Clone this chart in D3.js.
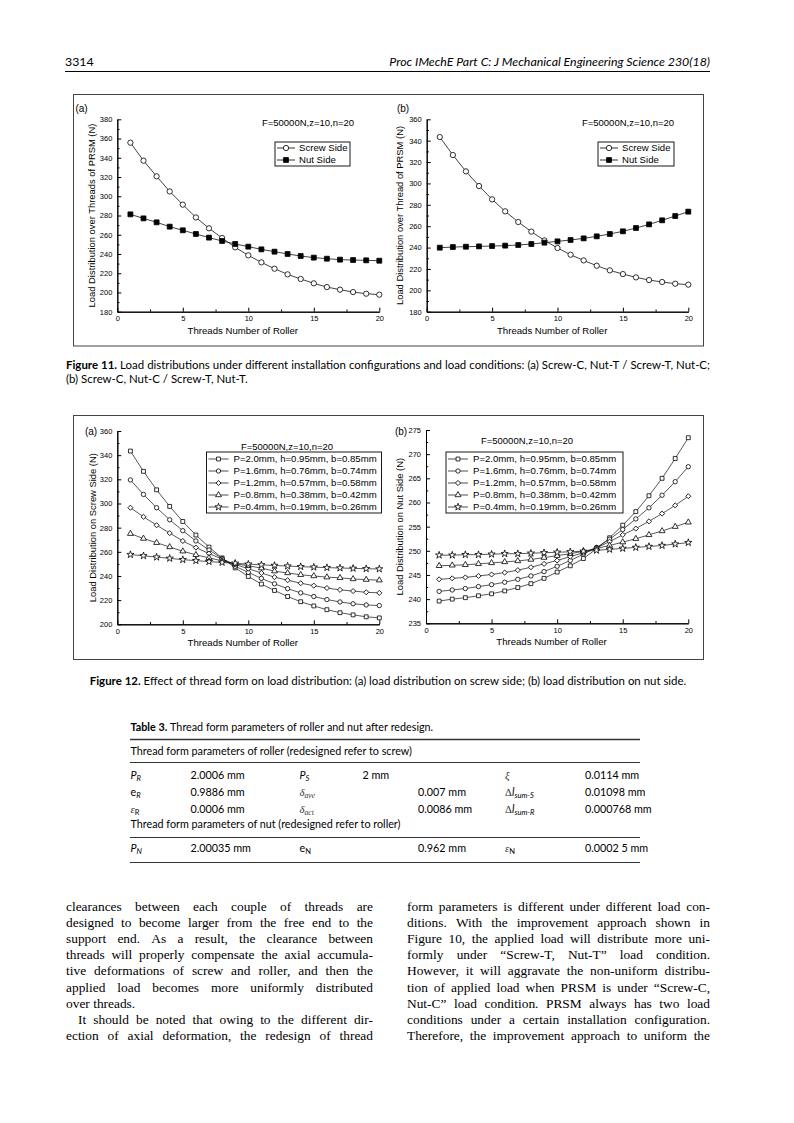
<!DOCTYPE html>
<html><head><meta charset="utf-8">
<script src="https://cdn.jsdelivr.net/npm/d3@7"></script>
<style>body{margin:0;background:#fff}svg{display:block}</style>
</head><body>
<svg id="page" width="794" height="1123"></svg>
<script>
// ---------------- DATA ----------------
const threadNo = [1,2,3,4,5,6,7,8,9,10,11,12,13,14,15,16,17,18,19,20];
const xTicks = [0,5,10,15,20];
const xMinor = [2.5,7.5,12.5,17.5];

// Figure 11(a)
const f11aScrew = [355.7,337.0,320.7,305.0,291.3,278.0,266.7,256.6,246.9,238.6,231.3,224.7,218.8,214.0,209.5,205.6,202.9,200.4,198.7,197.7];
const f11aNut   = [281.2,277.0,272.9,268.4,264.6,260.8,257.0,253.5,250.4,247.6,244.8,242.4,240.0,237.9,236.2,235.1,234.1,233.7,233.4,233.0];
const f11aYTicks = [180,200,220,240,260,280,300,320,340,360,380];
const f11aYMinor = [190,210,230,250,270,290,310,330,350,370];
// Figure 11(b)
const f11bScrew = [343.4,326.6,311.3,297.6,285.1,273.9,263.9,254.9,246.7,239.6,233.3,228.0,223.0,218.7,215.2,212.1,209.6,207.8,206.2,205.3];
const f11bNut   = [239.9,240.5,240.8,241.1,241.4,241.8,242.4,243.3,244.6,245.8,247.1,248.6,250.5,252.7,255.2,258.3,261.7,265.5,269.5,273.6];
const f11bYTicks = [180,200,220,240,260,280,300,320,340,360];
const f11bYMinor = [190,210,230,250,270,290,310,330,350];
const f11Legend = ["Screw Side","Nut Side"];
const f11Note = "F=50000N,z=10,n=20";

// Figure 12(a) load on screw side
const f12aP20 = [343.4,326.6,311.3,297.6,285.1,273.9,263.9,254.9,246.7,239.6,233.3,228.0,223.0,218.7,215.2,212.1,209.6,207.8,206.2,205.3];
const f12aP16 = [319.5,307.5,296.5,286.5,277.5,269.0,261.5,254.5,248.0,243.0,238.0,233.5,229.5,226.0,223.0,220.5,218.5,217.0,216.0,215.5];
const f12aP12 = [296.5,289.0,282.0,275.5,269.0,263.5,258.5,254.0,249.5,246.0,242.5,239.0,236.5,234.0,232.0,230.0,228.5,227.5,226.5,226.0];
const f12aP08 = [275.0,271.0,267.5,264.0,260.5,257.5,255.0,252.5,250.0,248.5,246.5,244.0,242.5,241.0,240.0,239.0,238.5,237.5,237.0,236.5];
const f12aP04 = [257.7,256.7,255.6,254.6,253.5,252.7,251.9,251.2,250.5,249.8,249.2,248.7,248.2,247.7,247.3,246.9,246.6,246.3,246.0,245.8];
const f12aYTicks = [200,220,240,260,280,300,320,340,360];
const f12aYMinor = [210,230,250,270,290,310,330,350];
// Figure 12(b) load on nut side
const f12bP20 = [239.6,240.0,240.3,240.7,241.1,241.7,242.4,243.2,244.3,245.6,246.9,248.4,250.4,252.7,255.3,258.1,261.4,265.0,269.1,273.4];
const f12bP16 = [241.6,241.9,242.2,242.6,243.0,243.5,244.1,244.8,245.7,246.8,248.0,249.3,250.7,252.4,254.4,256.6,258.9,261.5,264.3,267.4];
const f12bP12 = [244.1,244.3,244.5,244.8,245.1,245.5,246.0,246.6,247.3,248.0,248.8,249.6,250.6,251.9,253.3,254.6,256.1,257.7,259.4,261.3];
const f12bP08 = [246.9,247.0,247.1,247.3,247.5,247.7,247.9,248.2,248.6,249.0,249.4,249.9,250.5,251.1,251.8,252.5,253.3,254.1,255.0,255.9];
const f12bP04 = [249.1,249.1,249.2,249.2,249.3,249.4,249.4,249.5,249.6,249.7,249.8,249.9,250.1,250.3,250.5,250.7,250.9,251.1,251.4,251.7];
const f12bYTicks = [235,240,245,250,255,260,265,270,275];
const f12bYMinor = [237.5,242.5,247.5,252.5,257.5,262.5,267.5,272.5];
const f12Legend = ["P=2.0mm, h=0.95mm, b=0.85mm","P=1.6mm, h=0.76mm, b=0.74mm","P=1.2mm, h=0.57mm, b=0.58mm","P=0.8mm, h=0.38mm, b=0.42mm","P=0.4mm, h=0.19mm, b=0.26mm"];

// ---------------- SETUP ----------------
const svg = d3.select("#page");
const SANS = "'Liberation Sans', Arial, sans-serif";
const GILL = "Lato, 'Open Sans', sans-serif";
const SERIF = "'Liberation Serif', 'Times New Roman', serif";
const meas = svg.append("text").attr("x",-1000).attr("y",-1000);
function textW(str, fam, size, weight, style){
  meas.attr("font-family",fam).attr("font-size",size).attr("font-weight",weight||"normal").attr("font-style",style||"normal").text(str);
  return meas.node().getComputedTextLength();
}
function spaceW(fam, size){ return textW("a a",fam,size)-textW("aa",fam,size); }

// markers
const SYM = {
  circle:{type:d3.symbolCircle, rot:0},
  square:{type:d3.symbolSquare, rot:0},
  diamond:{type:d3.symbolSquare, rot:45},
  triangle:{type:d3.symbolTriangle, rot:0},
  star:{type:d3.symbolStar, rot:0}
};
function marker(g, kind, size, fill, cx, cy){
  const s = SYM[kind];
  g.append("path").attr("d", d3.symbol().type(s.type).size(size)())
    .attr("transform",`translate(${cx},${cy}) rotate(${s.rot})`)
    .attr("fill",fill).attr("stroke","#000").attr("stroke-width",0.8);
}

function chart(cfg){
  const g = svg.append("g");
  const x = d3.scaleLinear().domain([0,20]).range(cfg.xr);
  const y = d3.scaleLinear().domain(cfg.yd).range(cfg.yr);
  const y0 = cfg.yr[0], x0 = cfg.xr[0];
  g.append("g").attr("transform",`translate(0,${y0})`)
    .call(d3.axisBottom(x).tickValues(xMinor).tickSize(-2.2).tickSizeOuter(0).tickFormat(""));
  g.append("g").attr("transform",`translate(${x0},0)`)
    .call(d3.axisLeft(y).tickValues(cfg.yMinor).tickSize(-2.2).tickSizeOuter(0).tickFormat(""));
  g.append("g").attr("transform",`translate(0,${y0})`)
    .call(d3.axisBottom(x).tickValues(xTicks).tickSize(-4).tickSizeOuter(0).tickPadding(4));
  g.append("g").attr("transform",`translate(${x0},0)`)
    .call(d3.axisLeft(y).tickValues(cfg.yTicks).tickSize(-4).tickSizeOuter(0).tickPadding(5));
  g.selectAll(".tick text").attr("font-family",SANS).attr("font-size",7.5).attr("fill","#000");
  g.selectAll(".domain, .tick line").attr("stroke","#000").attr("stroke-width",1);
  g.append("text").attr("x",x0+125.5).attr("y",y0+22).attr("text-anchor","middle")
    .attr("font-family",SANS).attr("font-size",9.6).text("Threads Number of Roller");
  g.append("text").attr("transform",`translate(${cfg.ylx},${(cfg.yr[0]+cfg.yr[1])/2}) rotate(-90)`)
    .attr("text-anchor","middle").attr("dy","0.35em")
    .attr("font-family",SANS).attr("font-size",9.4).text(cfg.ylabel);
  g.append("text").attr("x",cfg.tag[0]).attr("y",cfg.tag[1]).attr("text-anchor","middle").attr("dy","0.35em")
    .attr("font-family",SANS).attr("font-size",10).text(cfg.tagText);
  const line = d3.line().x((d,i)=>x(threadNo[i])).y(d=>y(d));
  cfg.series.forEach(s=>{
    g.append("path").attr("d",line(s.v)).attr("fill","none").attr("stroke","#111").attr("stroke-width",cfg.lw);
  });
  cfg.series.forEach(s=>{
    s.v.forEach((d,i)=>marker(g, s.m, s.size, s.fill, x(threadNo[i]), y(d)));
  });
  const L = cfg.leg;
  g.append("text").attr("x",L.noteX).attr("y",L.noteY).attr("text-anchor","middle").attr("dy","0.35em")
    .attr("font-family",SANS).attr("font-size",9.5).text(f11Note);
  g.append("rect").attr("x",L.x).attr("y",L.y).attr("width",L.w).attr("height",L.h)
    .attr("fill","#fff").attr("stroke","#000").attr("stroke-width",0.9);
  cfg.series.forEach((s,i)=>{
    const cy = L.y + L.first + i*L.step;
    g.append("line").attr("x1",L.x+L.l1).attr("x2",L.x+L.l2).attr("y1",cy).attr("y2",cy)
      .attr("stroke","#000").attr("stroke-width",cfg.lw);
    marker(g, s.m, s.size, s.fill, L.x+(L.l1+L.l2)/2, cy);
    g.append("text").attr("x",L.x+L.tx).attr("y",cy).attr("dy","0.35em")
      .attr("font-family",SANS).attr("font-size",9.6).text(s.name);
  });
}

// ---------------- HEADER ----------------
const headR = "Proc IMechE Part C: J Mechanical Engineering Science 230(18)";
const headSize = Math.min(12.5, 10*321/textW(headR,GILL,10,"normal","italic"));
svg.append("text").attr("x",65).attr("y",66).attr("font-family",GILL).attr("font-size",headSize).text("3314");
svg.append("text").attr("x",710).attr("y",66).attr("text-anchor","end").attr("font-family",GILL)
  .attr("font-style","italic").attr("font-size",headSize).text(headR);
svg.append("line").attr("x1",65).attr("x2",710).attr("y1",71.5).attr("y2",71.5).attr("stroke","#000").attr("stroke-width",1);

// ---------------- FIGURE FRAMES ----------------
svg.append("rect").attr("x",73.5).attr("y",94.5).attr("width",630).attr("height",251.5)
  .attr("fill","none").attr("stroke","#444").attr("stroke-width",1);
svg.append("rect").attr("x",73.5).attr("y",415.5).attr("width",630).attr("height",244)
  .attr("fill","none").attr("stroke","#444").attr("stroke-width",1);

// ---------------- CHARTS ----------------
const f11Series = (screw, nut) => [
  {name:f11Legend[0], v:screw, m:"circle", size:22, fill:"#fff"},
  {name:f11Legend[1], v:nut, m:"square", size:24, fill:"#000"}
];
chart({xr:[117.3,379.3], yr:[311.7,119.3], yd:[180,380], yTicks:f11aYTicks, yMinor:f11aYMinor,
  ylabel:"Load Distribution over Threads of PRSM (N)", ylx:92, tag:[81.5,108], tagText:"(a)", lw:0.8,
  series:f11Series(f11aScrew,f11aNut),
  leg:{noteX:308, noteY:123, x:275, y:142, w:75, h:24, first:6, step:12, l1:2, l2:20, tx:24}});
chart({xr:[426.7,688.3], yr:[311.7,119.3], yd:[180,360], yTicks:f11bYTicks, yMinor:f11bYMinor,
  ylabel:"Load Distribution over Thread of PRSM (N)", ylx:400, tag:[403,108], tagText:"(b)", lw:0.8,
  series:f11Series(f11bScrew,f11bNut),
  leg:{noteX:628, noteY:123, x:598, y:142, w:76, h:24, first:6, step:12, l1:2, l2:20, tx:24}});

const f12Series = (a,b,c,d,e) => [
  {name:f12Legend[0], v:a, m:"square", size:15, fill:"#fff"},
  {name:f12Legend[1], v:b, m:"circle", size:15, fill:"#fff"},
  {name:f12Legend[2], v:c, m:"diamond", size:13, fill:"#fff"},
  {name:f12Legend[3], v:d, m:"triangle", size:15, fill:"#fff"},
  {name:f12Legend[4], v:e, m:"star", size:16, fill:"#fff"}
];
chart({xr:[117.3,379.3], yr:[624.3,431], yd:[200,360], yTicks:f12aYTicks, yMinor:f12aYMinor,
  ylabel:"Load Distribution on Screw Side (N)", ylx:93, tag:[91,431], tagText:"(a)", lw:0.7,
  series:f12Series(f12aP20,f12aP16,f12aP12,f12aP08,f12aP04),
  leg:{noteX:287, noteY:447, x:206.5, y:452, w:175, h:61, first:7, step:12, l1:2, l2:22, tx:27}});
chart({xr:[426,688.3], yr:[623.3,430], yd:[235,275], yTicks:f12bYTicks, yMinor:f12bYMinor,
  ylabel:"Load Distribution on Nut Side (N)", ylx:400, tag:[401,431], tagText:"(b)", lw:0.7,
  series:f12Series(f12bP20,f12bP16,f12bP12,f12bP08,f12bP04),
  leg:{noteX:527, noteY:441, x:446, y:452, w:177, h:61, first:7, step:12, l1:2, l2:22, tx:27}});

// ---------------- JUSTIFIED TEXT HELPER ----------------
function justLine(x, y, width, words, fam, size, justify){
  const ws = words.map(o=>textW(o.t,fam,size,o.b?"bold":"normal"));
  const total = d3.sum(ws);
  const sp = spaceW(fam,size);
  const gap = justify && words.length>1 ? (width-total)/(words.length-1) : sp;
  const t = svg.append("text").attr("y",y).attr("font-family",fam).attr("font-size",size);
  let cx = x;
  words.forEach((o,i)=>{
    t.append("tspan").attr("x",cx).attr("font-weight",o.b?"bold":null).text(o.t);
    cx += ws[i]+gap;
  });
  return {t, width: cx-gap-x};
}
function toWords(str, boldCount){
  return str.split(" ").map((t,i)=>({t, b: i<(boldCount||0)}));
}
function naturalW(words, fam, size){
  return d3.sum(words.map(o=>textW(o.t,fam,size,o.b?"bold":"normal"))) + (words.length-1)*spaceW(fam,size);
}

// ---------------- CAPTIONS ----------------
const cap11a = "Figure 11. Load distributions under different installation configurations and load conditions: (a) Screw-C, Nut-T / Screw-T, Nut-C;";
const cap11b = "(b) Screw-C, Nut-C / Screw-T, Nut-T.";
const cap12 = "Figure 12. Effect of thread form on load distribution: (a) load distribution on screw side; (b) load distribution on nut side.";
const capSize = 10*643/naturalW(toWords(cap11a,2),GILL,10);
justLine(66, 369, 644, toWords(cap11a,2), GILL, capSize, true);
justLine(66, 382.5, 644, toWords(cap11b,0), GILL, capSize, false);
{
  const w12 = naturalW(toWords(cap12,2),GILL,capSize);
  justLine(388-w12/2, 685, 0, toWords(cap12,2), GILL, capSize, false);
}

// ---------------- TABLE ----------------
const tabTitle = "Table 3. Thread form parameters of roller and nut after redesign.";
const tabHead1 = "Thread form parameters of roller (redesigned refer to screw)";
const tabHead2 = "Thread form parameters of nut (redesigned refer to roller)";
const tabSize = 10*282/textW(tabHead1,GILL,10);
justLine(130.5, 731, 0, toWords(tabTitle,2), GILL, tabSize, false);
const TL = 130, TR = 640;
function hrule(y, w){ svg.append("line").attr("x1",TL).attr("x2",TR).attr("y1",y).attr("y2",y).attr("stroke","#333").attr("stroke-width",w); }
hrule(739.5,1.4);
svg.append("text").attr("x",130.5).attr("y",755).attr("font-family",GILL).attr("font-size",tabSize).text(tabHead1);
hrule(762.5,1);
svg.append("text").attr("x",130.5).attr("y",828).attr("font-family",GILL).attr("font-size",tabSize).text(tabHead2);
hrule(837.5,1);
hrule(862.5,1.2);

function symCell(x, y, parts){
  const t = svg.append("text").attr("x",x).attr("y",y).attr("font-family",GILL).attr("font-size",tabSize);
  let low = false;
  parts.forEach(p=>{
    const s = t.append("tspan").text(p.t);
    if(p.it) s.attr("font-style","italic");
    if(p.serif) s.attr("font-family",SERIF).attr("fill","#333");
    if(p.sub){ s.attr("font-size",tabSize*0.7); if(!low){ s.attr("dy",2); low=true; } }
    else if(low){ s.attr("dy",-2); low=false; }
  });
}
function valCell(x, y, str){
  svg.append("text").attr("x",x).attr("y",y).attr("font-family",GILL).attr("font-size",tabSize).text(str);
}
const rowY = [778.5, 795.5, 812.5, 851.5];
const colX = [130.5, 190.5, 299.5, 418, 505, 585];
const tabValues = [
  ["2.0006 mm","2 mm","0.0114 mm"],
  ["0.9886 mm","0.007 mm","0.01098 mm"],
  ["0.0006 mm","0.0086 mm","0.000768 mm"],
  ["2.00035 mm","0.962 mm","0.0002 5 mm"]
];
const tabSymbols = [
  [[{t:"P",it:1},{t:"R",it:1,sub:1}], [{t:"P",it:1},{t:"S",it:1,sub:1}], [{t:"ξ",it:1,serif:1}]],
  [[{t:"e"},{t:"R",it:1,sub:1}], [{t:"δ",it:1,serif:1},{t:"ave",it:1,sub:1,serif:1}], [{t:"Δ",serif:1},{t:"l",it:1},{t:"sum-S",it:1,sub:1}]],
  [[{t:"ε",it:1,serif:1},{t:"R",sub:1}], [{t:"δ",it:1,serif:1},{t:"act",it:1,sub:1,serif:1}], [{t:"Δ",serif:1},{t:"l",it:1},{t:"sum-R",it:1,sub:1}]],
  [[{t:"P",it:1},{t:"N",it:1,sub:1}], [{t:"e"},{t:"N",sub:1}], [{t:"ε",it:1,serif:1},{t:"N",sub:1}]]
];
tabValues.forEach((row,r)=>{
  symCell(colX[0], rowY[r], tabSymbols[r][0]);
  valCell(colX[1], rowY[r], row[0]);
  symCell(colX[2], rowY[r], tabSymbols[r][1]);
  valCell(r===0 ? 362.5 : colX[3], rowY[r], row[1]);
  symCell(colX[4], rowY[r], tabSymbols[r][2]);
  valCell(colX[5], rowY[r], row[2]);
});

// ---------------- BODY TEXT ----------------
const leftCol = [
  {t:"clearances between each couple of threads are", j:1},
  {t:"designed to become larger from the free end to the", j:1},
  {t:"support end. As a result, the clearance between", j:1},
  {t:"threads will properly compensate the axial accumula-", j:1},
  {t:"tive deformations of screw and roller, and then the", j:1},
  {t:"applied load becomes more uniformly distributed", j:1},
  {t:"over threads.", j:0},
  {t:"It should be noted that owing to the different dir-", j:1, ind:12},
  {t:"ection of axial deformation, the redesign of thread", j:1}
];
const rightCol = [
  {t:"form parameters is different under different load con-", j:1},
  {t:"ditions. With the improvement approach shown in", j:1},
  {t:"Figure 10, the applied load will distribute more uni-", j:1},
  {t:"formly under \u201cScrew-T, Nut-T\u201d load condition.", j:1},
  {t:"However, it will aggravate the non-uniform distribu-", j:1},
  {t:"tion of applied load when PRSM is under \u201cScrew-C,", j:1},
  {t:"Nut-C\u201d load condition. PRSM always has two load", j:1},
  {t:"conditions under a certain installation configuration.", j:1},
  {t:"Therefore, the improvement approach to uniform the", j:1}
];
const bodyMax = d3.max(leftCol.concat(rightCol), l=>textW(l.t,SERIF,10));
const bodySize = Math.min(13.4, 10*308/bodyMax);
function column(lines, x, w){
  lines.forEach((l,i)=>{
    justLine(x+(l.ind||0), 911+i*16.1, w-(l.ind||0), toWords(l.t,0), SERIF, bodySize, !!l.j);
  });
}
column(leftCol, 66, 307);
column(rightCol, 407, 303);
meas.remove();
</script>
</body></html>
